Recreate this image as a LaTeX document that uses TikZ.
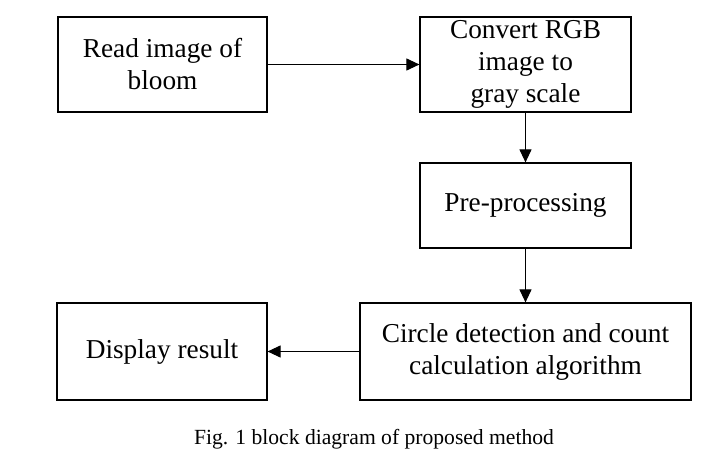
\documentclass[tikz,border=0pt]{standalone}
\usepackage{fontspec}
\setmainfont{Liberation Serif}
\usetikzlibrary{arrows.meta}
\begin{document}
\begin{tikzpicture}[x=1pt,y=-1pt,
  blk/.style={draw=black, line width=1.2pt, inner sep=0pt, align=center,
    font=\fontsize{27.3}{32}\selectfont},
  conn/.style={line width=1.1pt, -{Triangle[length=13pt,width=12pt]}}]
\useasboundingbox (0,0) rectangle (724,457);
\node[blk, minimum width=209pt, minimum height=95pt] (read) at (162.5,64.5) {Read image of\\bloom};
\node[blk, minimum width=211pt, minimum height=95pt] (conv) at (525.5,64.5) {\raisebox{0pt}[\height][\depth]{}Convert RGB\\image to\\gray scale};
\node[blk, minimum width=211pt, minimum height=85pt] (pre) at (525.5,205.5) {Pre-processing};
\node[blk, minimum width=331pt, minimum height=97pt] (circ) at (525.5,351.5) {Circle detection and count\\calculation algorithm};
\node[blk, minimum width=210pt, minimum height=97pt] (disp) at (162,351.5) {Display result};
\node[font=\fontsize{21.6}{26}\selectfont, anchor=base, inner sep=0pt] (cap) at (374,445) {Fig. 1 block diagram of proposed method};
\draw[conn] (read.east) -- (conv.west);
\draw[conn] (conv.south) -- (pre.north);
\draw[conn] (pre.south) -- (circ.north);
\draw[conn] (circ.west) -- (disp.east);
\end{tikzpicture}
\end{document}
